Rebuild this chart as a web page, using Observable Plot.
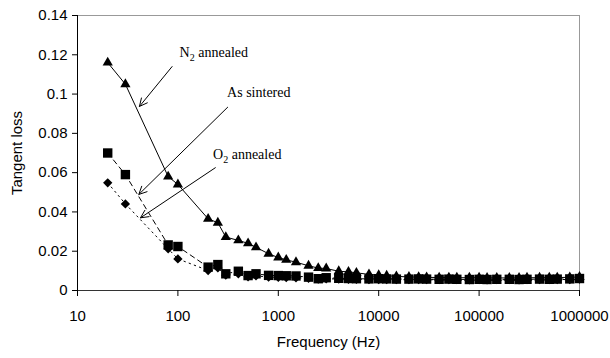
<!DOCTYPE html>
<html><head><meta charset="utf-8">
<script src="https://cdn.jsdelivr.net/npm/d3@7"></script>
<script src="https://cdn.jsdelivr.net/npm/@observablehq/plot@0.6"></script>
<style>
html,body{margin:0;padding:0;background:#fff;}
</style></head><body><div id="chart"></div>
<script>
const frequencies = [20,30,80,100,200,250,300,400,500,600,800,1000,1200,1500,2000,2500,3000,4000,5000,6000,8000,10000,12000,15000,20000,25000,30000,40000,50000,60000,80000,100000,120000,150000,200000,250000,300000,400000,500000,600000,800000,1000000];
const n2Annealed = [0.116,0.105,0.058,0.054,0.0365,0.0345,0.0272,0.0255,0.024,0.022,0.0187,0.0168,0.0156,0.0144,0.0126,0.0114,0.0112,0.0098,0.0095,0.009,0.0082,0.0078,0.0075,0.0072,0.0069,0.0068,0.0067,0.0066,0.0066,0.0065,0.0065,0.0065,0.0064,0.0064,0.0064,0.0064,0.0065,0.0065,0.0066,0.0066,0.0067,0.0069];
const asSintered = [0.070,0.059,0.0232,0.0224,0.0119,0.0132,0.0085,0.0098,0.0076,0.0085,0.0077,0.0076,0.0075,0.0074,0.0068,0.0060,0.0065,0.0062,0.0061,0.0060,0.0059,0.0060,0.0059,0.0058,0.0058,0.0059,0.0058,0.0057,0.0058,0.0057,0.0056,0.0057,0.0056,0.0057,0.0057,0.0056,0.0057,0.0058,0.0057,0.0058,0.0059,0.0061];
const o2Annealed = [0.0548,0.0441,0.0212,0.0161,0.0102,0.0115,0.0078,0.0085,0.0070,0.0075,0.0068,0.0067,0.0066,0.0065,0.0062,0.0058,0.0060,0.0058,0.0057,0.0057,0.0056,0.0056,0.0056,0.0055,0.0055,0.0056,0.0055,0.0055,0.0055,0.0055,0.0054,0.0055,0.0054,0.0055,0.0055,0.0054,0.0055,0.0055,0.0055,0.0056,0.0056,0.0058];
const xTicks = [10,100,1000,10000,100000,1000000];
const xTickLabels = ["10","100","1000","10000","100000","1000000"];
const yTicks = [0,0.02,0.04,0.06,0.08,0.1,0.12,0.14];
const yTickLabels = ["0","0.02","0.04","0.06","0.08","0.1","0.12","0.14"];
const labelNames = ["N₂ annealed","As sintered","O₂ annealed"];
const labelX = [104, 309, 224];
const labelY = [0.1213, 0.1006, 0.0692];
const arrowFromX = [87.5, 313, 236];
const arrowFromY = [0.114, 0.0933, 0.0625];
const arrowToX = [41.4, 40.8, 42.4];
const arrowToY = [0.0937, 0.0489, 0.037];

const rows = (vals) => frequencies.map((f, i) => ({f, v: vals[i]}));
const n2 = rows(n2Annealed), as = rows(asSintered), o2 = rows(o2Annealed);
const labels = labelNames.map((t, i) => ({t, x: labelX[i], y: labelY[i]}));
const arrows = arrowFromX.map((x1, i) => ({x1, y1: arrowFromY[i], x2: arrowToX[i], y2: arrowToY[i]}));

const chart = Plot.plot({
  width: 610, height: 358,
  marginLeft: 77, marginRight: 31, marginTop: 15, marginBottom: 68,
  style: {fontFamily: "'Liberation Sans', Arial, sans-serif", fontSize: "15px", background: "#fff", color: "#000"},
  x: {type: "log", domain: [10, 1000000]},
  y: {domain: [0, 0.14]},
  marks: [
    Plot.frame({stroke: "#999"}),
    Plot.ruleX([10], {stroke: "#000"}),
    Plot.ruleY([0], {stroke: "#333"}),
    Plot.line(n2, {x: "f", y: "v", stroke: "#000", strokeWidth: 1}),
    Plot.line(as, {x: "f", y: "v", stroke: "#000", strokeWidth: 1, strokeDasharray: "5,4"}),
    Plot.line(o2, {x: "f", y: "v", stroke: "#000", strokeWidth: 1, strokeDasharray: "1.5,4"}),
    Plot.dot(o2, {x: "f", y: "v", symbol: "diamond2", r: 4.2, fill: "#000", stroke: "none"}),
    Plot.dot(as, {x: "f", y: "v", symbol: "square", r: 5.3, fill: "#000", stroke: "none"}),
    Plot.dot(n2, {x: "f", y: "v", symbol: "triangle", r: 3.8, fill: "#000", stroke: "none"}),
    Plot.arrow(arrows, {x1: "x1", y1: "y1", x2: "x2", y2: "y2", stroke: "#000", strokeWidth: 1, headLength: 13, headAngle: 52, bend: 0}),
    Plot.text(labels, {x: "x", y: "y", text: "t", textAnchor: "start", fontFamily: "'Liberation Serif', 'Times New Roman', serif", fontSize: 14, fill: "#000"}),
    Plot.axisX(xTicks, {tickSize: 6, tickPadding: 14, fill: "#000", tickFormat: d => xTickLabels[xTicks.indexOf(d)], label: "Frequency (Hz)", labelAnchor: "center", labelOffset: 56, labelArrow: "none"}),
    Plot.axisY(yTicks, {tickSize: 5, tickPadding: 5, fill: "#000", tickFormat: d => yTickLabels[yTicks.indexOf(d)], label: "Tangent loss", labelAnchor: "center", labelOffset: 66, labelArrow: "none"})
  ]
});
chart.querySelectorAll("text").forEach(t => {
  const s = t.textContent;
  if (t.children.length === 0 && /[→↑]/.test(s)) {
    t.textContent = s.replace(/\s*[→↑]\s*/g, "").trim();
  }
  if (s.includes("₂") && t.children.length === 0) {
    const [a, b] = s.split("₂");
    t.textContent = "";
    const ns = "http://www.w3.org/2000/svg";
    const t1 = document.createElementNS(ns, "tspan"); t1.textContent = a;
    const t2 = document.createElementNS(ns, "tspan"); t2.textContent = "2"; t2.setAttribute("dy", "4"); t2.setAttribute("font-size", "10");
    const t3 = document.createElementNS(ns, "tspan"); t3.textContent = b; t3.setAttribute("dy", "-4");
    t.append(t1, t2, t3);
  }
});
document.getElementById("chart").append(chart);
</script></body></html>
